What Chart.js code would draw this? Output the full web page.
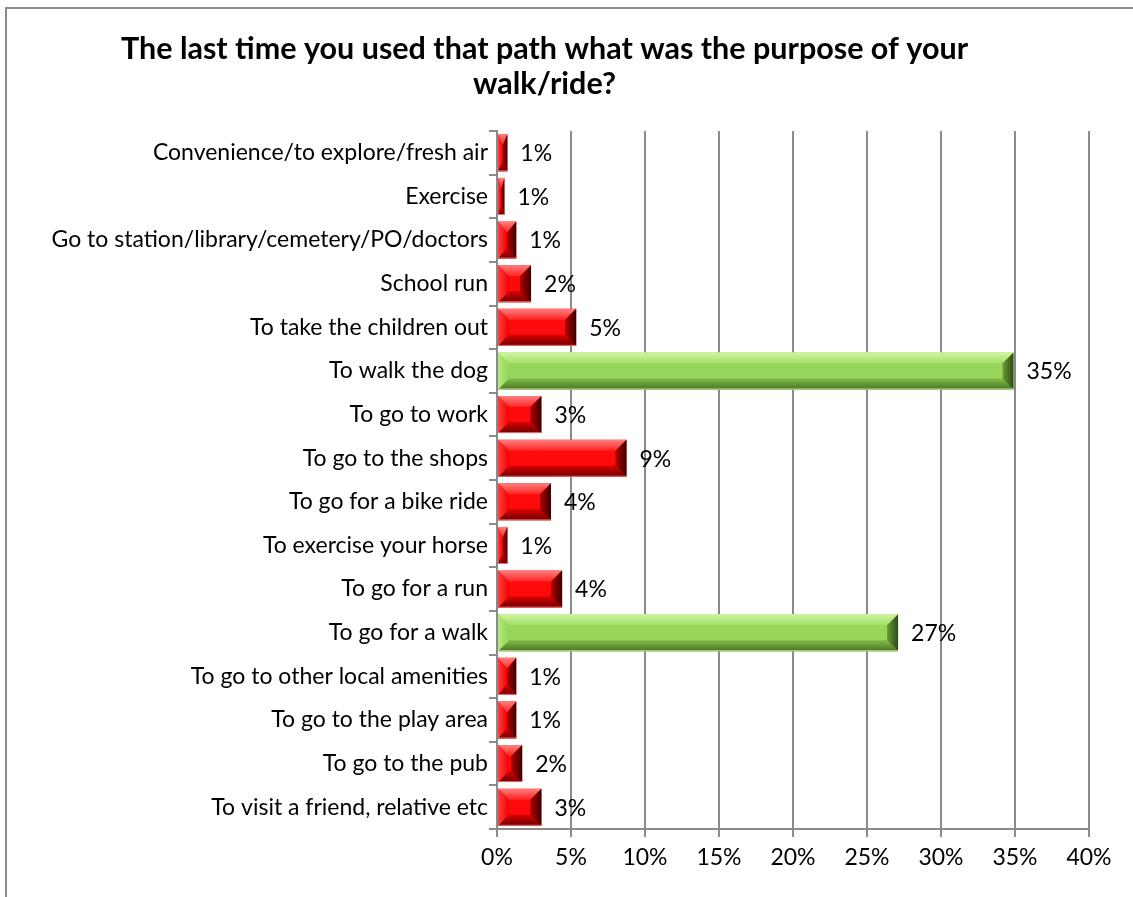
<!DOCTYPE html>
<html>
<head>
<meta charset="utf-8">
<title>Purpose of walk/ride</title>
<script src="https://cdn.jsdelivr.net/npm/chart.js@4.4.1/dist/chart.umd.min.js"></script>
<style>
  html, body { margin: 0; padding: 0; background: #ffffff; overflow: hidden; }
  #wrap { width: 1133px; height: 897px; position: relative; }
  canvas { display: block; }
</style>
</head>
<body>
<div id="wrap"><canvas id="chart" width="1133" height="897"></canvas></div>
<script>
// Survey answers: purpose of the last walk/ride on the path (percent of respondents)
const categories = [
  'Convenience/to explore/fresh air',
  'Exercise',
  'Go to station/library/cemetery/PO/doctors',
  'School run',
  'To take the children out',
  'To walk the dog',
  'To go to work',
  'To go to the shops',
  'To go for a bike ride',
  'To exercise your horse',
  'To go for a run',
  'To go for a walk',
  'To go to other local amenities',
  'To go to the play area',
  'To go to the pub',
  'To visit a friend, relative etc'
];
const percentages = [0.7, 0.5, 1.3, 2.3, 5.35, 34.9, 3.0, 8.75, 3.65, 0.7, 4.4, 27.1, 1.3, 1.3, 1.7, 3.0];
const xTickValues = [0, 5, 10, 15, 20, 25, 30, 35, 40];
const titleLines = ['The last time you used that path what was the purpose of your', 'walk/ride?'];

// answers above this share are shown in green
const MAJOR_SHARE = 20;

const FONT = 'Lato, "Open Sans", sans-serif';
const GRID = '#8a8a8a';

const palette = {
  red:   { base: '#ff0a0a', top: ['#ff8080', '#ff2424'], left: ['#ff4040', '#f20000'], bottom: ['#d80000', '#6e0000'], right: ['#b00000', '#3c0000'] },
  green: { base: '#97d65a', top: ['#d0f5a2', '#a2e066'], left: ['#b2ea7c', '#94d458'], bottom: ['#82bd48', '#4b7324'], right: ['#6b9a38', '#2e4a14'] }
};
const tone = v => (v > MAJOR_SHARE ? palette.green : palette.red);

// Outer frame (runs off the right and bottom edges) and white background
const framePlugin = {
  id: 'frame',
  beforeDraw(chart) {
    const ctx = chart.ctx;
    ctx.save();
    ctx.fillStyle = '#ffffff';
    ctx.fillRect(0, 0, chart.width, chart.height);
    ctx.strokeStyle = '#8c8c8c';
    ctx.lineWidth = 2;
    ctx.beginPath();
    ctx.moveTo(6, chart.height + 5);
    ctx.lineTo(6, 8);
    ctx.lineTo(chart.width + 5, 8);
    ctx.stroke();
    ctx.restore();
  }
};

// Bevelled look on every bar, drawn over the bar rectangles
function band(ctx, pts, g0, g1, c0, c1) {
  const grad = ctx.createLinearGradient(g0[0], g0[1], g1[0], g1[1]);
  grad.addColorStop(0, c0);
  grad.addColorStop(1, c1);
  ctx.fillStyle = grad;
  ctx.beginPath();
  ctx.moveTo(pts[0][0], pts[0][1]);
  for (let i = 1; i < pts.length; i++) ctx.lineTo(pts[i][0], pts[i][1]);
  ctx.closePath();
  ctx.fill();
}
const bevelPlugin = {
  id: 'bevel',
  afterDatasetsDraw(chart) {
    const ctx = chart.ctx;
    const meta = chart.getDatasetMeta(0);
    ctx.save();
    meta.data.forEach((bar, i) => {
      const p = bar.getProps(['x', 'y', 'base', 'height'], true);
      const x0 = Math.min(p.base, p.x), x1 = Math.max(p.base, p.x);
      const y0 = p.y - p.height / 2, y1 = p.y + p.height / 2;
      const w = x1 - x0, h = y1 - y0;
      const c = tone(percentages[i]);
      const bx = Math.min(11, w / 2), by = Math.min(11, h / 2);
      band(ctx, [[x0, y0], [x1, y0], [x1 - bx, y0 + by], [x0 + bx, y0 + by]], [0, y0], [0, y0 + by], c.top[0], c.top[1]);
      band(ctx, [[x0, y1], [x1, y1], [x1 - bx, y1 - by], [x0 + bx, y1 - by]], [0, y1 - by], [0, y1], c.bottom[0], c.bottom[1]);
      band(ctx, [[x0, y0], [x0 + bx, y0 + by], [x0 + bx, y1 - by], [x0, y1]], [x0, 0], [x0 + bx, 0], c.left[0], c.left[1]);
      band(ctx, [[x1, y0], [x1 - bx, y0 + by], [x1 - bx, y1 - by], [x1, y1]], [x1 - bx, 0], [x1, 0], c.right[0], c.right[1]);
      ctx.fillStyle = c === palette.red ? 'rgba(255,120,120,0.9)' : 'rgba(190,240,150,0.9)';
      ctx.fillRect(x0, y1 - 1, w, 1);
    });
    ctx.restore();
  }
};

// Rounded percentage printed just past each bar's end
const valueLabelPlugin = {
  id: 'valueLabels',
  afterDatasetsDraw(chart) {
    const ctx = chart.ctx;
    const meta = chart.getDatasetMeta(0);
    ctx.save();
    ctx.font = '23px ' + FONT;
    ctx.fillStyle = '#000000';
    ctx.textAlign = 'left';
    ctx.textBaseline = 'middle';
    meta.data.forEach((bar, i) => {
      ctx.fillText(Math.round(percentages[i]) + '%', bar.x + 13, bar.y + 1);
    });
    ctx.restore();
  }
};

new Chart(document.getElementById('chart'), {
  type: 'bar',
  data: {
    labels: categories,
    datasets: [{
      data: percentages,
      backgroundColor: percentages.map(v => tone(v).base),
      borderWidth: 0,
      barPercentage: 0.85,
      categoryPercentage: 1.0
    }]
  },
  options: {
    indexAxis: 'y',
    responsive: false,
    animation: false,
    layout: { padding: { top: 0, left: 0, right: 44, bottom: 0 } },
    plugins: {
      legend: { display: false },
      tooltip: { enabled: false },
      title: {
        display: true,
        text: titleLines,
        color: '#000000',
        font: { family: FONT, size: 30.5, weight: 'bold', lineHeight: 35 / 30.5 },
        padding: { top: 32, bottom: 29 }
      }
    },
    scales: {
      x: {
        min: 0,
        max: 40,
        afterBuildTicks(scale) { scale.ticks = xTickValues.map(v => ({ value: v })); },
        afterFit(scale) { scale.height = 68; },
        ticks: {
          callback: v => v + '%',
          color: '#000000',
          font: { family: FONT, size: 23 },
          padding: 7,
          maxRotation: 0
        },
        grid: { color: GRID, lineWidth: 2, tickLength: 8, drawOnChartArea: true },
        border: { color: GRID, width: 2 }
      },
      y: {
        afterFit(scale) { scale.width = 497; },
        ticks: {
          color: '#000000',
          font: { family: FONT, size: 23 },
          padding: 1,
          autoSkip: false
        },
        grid: { color: GRID, lineWidth: 2, tickLength: 8, drawOnChartArea: false, offset: true },
        border: { color: GRID, width: 2 }
      }
    }
  },
  plugins: [framePlugin, bevelPlugin, valueLabelPlugin]
});
</script>
</body>
</html>
